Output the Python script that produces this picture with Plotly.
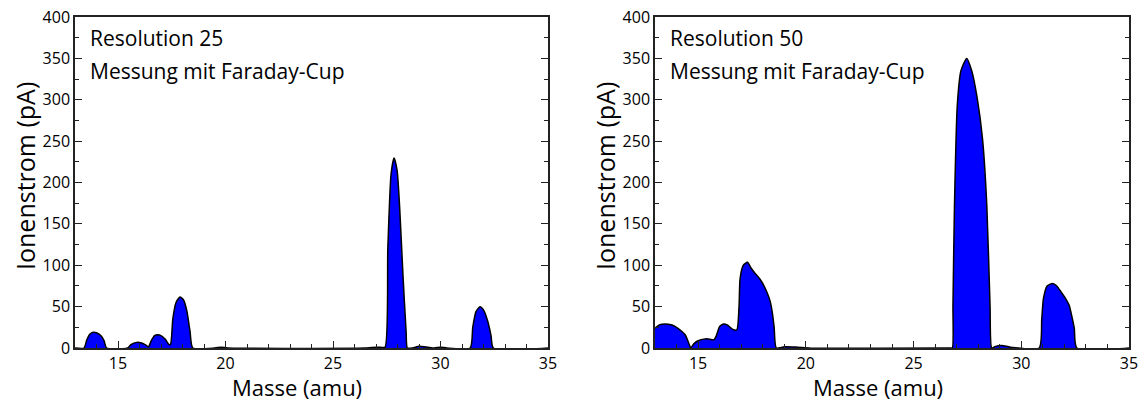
import plotly.graph_objects as go

# Resolution 25 spectrum (mass in amu, ion current in pA)
mass_r25 = [13.0, 13.42, 13.55, 13.7, 13.85, 14.0, 14.2, 14.35, 14.47,
            15.45, 15.6, 15.87, 16.1, 16.3, 16.42, 16.55, 16.7, 16.85, 17.0, 17.2, 17.38,
            17.45, 17.55, 17.7, 17.88, 18.05, 18.2, 18.35, 18.48,
            19.5, 19.8, 20.1, 26.5, 26.8, 27.2, 27.42,
            27.55, 27.7, 27.84, 27.98, 28.1, 28.25, 28.4, 28.46,
            28.7, 29.0, 29.4, 29.7, 30.0, 30.3,
            31.38, 31.5, 31.65, 31.84, 32.0, 32.2, 32.35, 32.46, 35.0]
current_r25 = [0, 0, 10, 17, 19, 18.5, 15, 9, 0,
               0, 4, 6.8, 6, 3.5, 1.5, 9, 15, 16, 15, 10.5, 4,
               5, 35, 55, 61.5, 58, 45, 20, 0,
               0, 1, 0, 0, 0.7, 0.8, 1,
               120, 210, 229.7, 215, 170, 90, 20, 0,
               0, 2, 1, 0, 1, 0,
               0, 25, 44, 50, 46, 32, 15, 0, 0]

# Resolution 50 spectrum
mass_r50 = [13.0, 13.2, 13.47, 13.75, 14.0, 14.25, 14.4, 14.55, 14.66,
            14.8, 15.0, 15.4, 15.74, 15.85, 16.0, 16.18, 16.35, 16.49, 16.65, 16.8,
            16.9, 16.95, 17.1, 17.29, 17.45, 17.65, 17.85, 18.04, 18.2, 18.35, 18.45, 18.53, 18.63,
            19.0, 19.6, 20.2, 26.7, 26.8,
            26.83, 26.9, 27.03, 27.2, 27.47, 27.7, 27.96, 28.2, 28.4, 28.55, 28.63,
            28.8, 29.1, 29.5, 30.83,
            30.95, 31.03, 31.2, 31.45, 31.65, 31.84, 32.05, 32.22, 32.35, 32.46, 32.58, 35.0]
current_r50 = [24, 28, 29, 28, 25, 20, 16, 7, 0,
               5, 8.8, 11.2, 10, 15, 26, 29, 28, 25, 22, 22,
               50, 84, 100, 103.6, 97, 90, 84, 76, 67, 56, 42, 25, 0,
               1.5, 1, 0, 0, 0,
               52, 172.6, 293, 335, 350, 335, 301, 253, 172.6, 52, 0,
               2, 3, 1, 0,
               35, 60, 75, 78, 75, 68, 60, 52, 38, 24, 0, 0]

panel_labels = ["Resolution 25", "Resolution 50"]
subtitle = "Messung mit Faraday-Cup"
x_title = "Masse (amu)"
y_title = "Ionenstrom (pA)"

FONT = "Open Sans"
W, H = 1145, 403

fig = go.Figure()
series = [(mass_r25, current_r25), (mass_r50, current_r50)]
xdomains = [[75 / W, 548 / W], [655 / W, 1129 / W]]
ydomain = [1 - 348 / H, 1 - 17 / H]
xtitle_px = [297, 878]
ytitle_px = [25, 605]

for i, (xs, ys) in enumerate(series):
    ax = "" if i == 0 else "2"
    fig.add_trace(go.Scatter(
        x=xs, y=ys, mode="lines", fill="tozeroy",
        fillcolor="#0000FF",
        line=dict(color="black", width=1.5, shape="spline", smoothing=0.6),
        xaxis="x" + ax, yaxis="y" + ax, showlegend=False, hoverinfo="x+y"))

axis_common = dict(
    showgrid=False, zeroline=False, showline=True, linecolor="#222222", linewidth=1.5,
    ticks="inside", ticklen=7, tickwidth=1, tickcolor="#222222",
    tickfont=dict(family=FONT, size=16, color="black"),
    automargin=False,
)

for i in range(2):
    ax = "" if i == 0 else "2"
    fig.update_layout({
        "xaxis" + ax: dict(
            axis_common, domain=xdomains[i], range=[13, 35], tick0=0, dtick=5,
            mirror=True, anchor="y" + ax,
            minor=dict(dtick=1, ticks="inside", ticklen=4, tickcolor="#222222"),
        ),
        "yaxis" + ax: dict(
            axis_common, domain=ydomain, range=[0, 400], tick0=0, dtick=50,
            mirror="ticks", anchor="x" + ax,
            minor=dict(dtick=25, ticks="inside", ticklen=4, tickcolor="#222222"),
        ),
    })
    # axis titles
    fig.add_annotation(
        xref="paper", yref="paper", x=xtitle_px[i] / W, y=0,
        text=x_title, showarrow=False, xanchor="center", yanchor="bottom",
        borderpad=0, font=dict(family=FONT, size=22, color="black"))
    fig.add_annotation(
        xref="paper", yref="paper", x=ytitle_px[i] / W, y=1 - 176 / H,
        text=y_title, showarrow=False, xanchor="center", yanchor="middle",
        textangle=-90, font=dict(family=FONT, size=25, color="black"))
    # in-plot labels
    fig.add_annotation(
        xref="x" + ax + " domain", yref="paper", x=0.028, y=1 - 38 / H,
        text=panel_labels[i], showarrow=False, xanchor="left", yanchor="middle",
        font=dict(family=FONT, size=21, color="black"))
    fig.add_annotation(
        xref="x" + ax + " domain", yref="paper", x=0.028, y=1 - 71 / H,
        text=subtitle, showarrow=False, xanchor="left", yanchor="middle",
        font=dict(family=FONT, size=21, color="black"))

fig.update_layout(
    width=W, height=H, margin=dict(l=0, r=0, t=0, b=0),
    paper_bgcolor="white", plot_bgcolor="white",
)

fig.write_html("out.html")
